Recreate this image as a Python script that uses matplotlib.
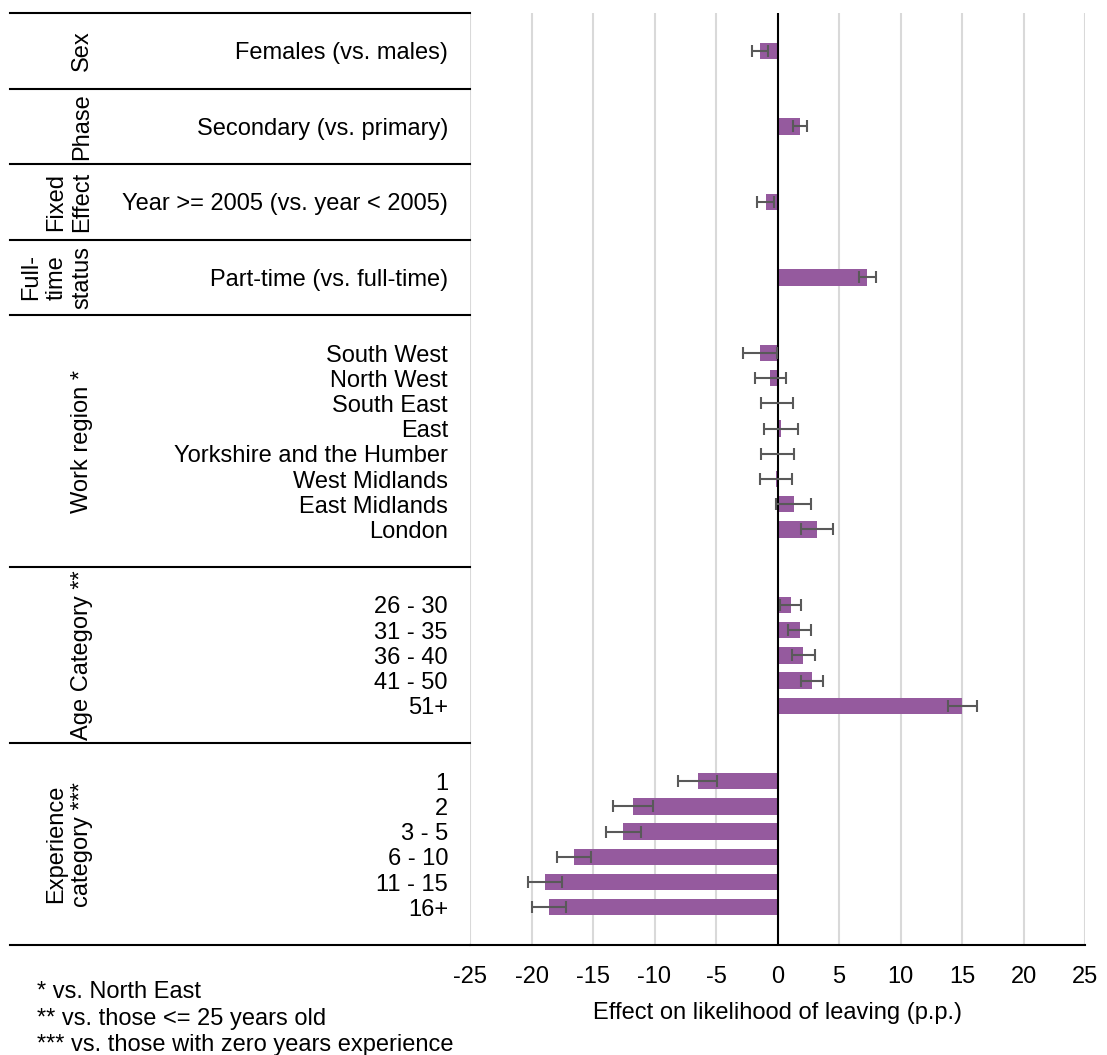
import matplotlib
matplotlib.use("Agg")
import matplotlib.pyplot as plt

plt.rcParams['font.family'] = ['Liberation Sans', 'DejaVu Sans']

# Groups of the regression table, top to bottom
groups = ["Sex", "Phase", "Fixed\nEffect", "Full-\ntime\nstatus",
          "Work region *", "Age Category **", "Experience\ncategory ***"]

labels = [
    ["Females (vs. males)"],
    ["Secondary (vs. primary)"],
    ["Year >= 2005 (vs. year < 2005)"],
    ["Part-time (vs. full-time)"],
    ["South West", "North West", "South East", "East",
     "Yorkshire and the Humber", "West Midlands", "East Midlands", "London"],
    ["26 - 30", "31 - 35", "36 - 40", "41 - 50", "51+"],
    ["1", "2", "3 - 5", "6 - 10", "11 - 15", "16+"],
]

# Effect estimates (percentage points) and 95% CI half-widths
effects = [
    [-1.44],
    [1.79],
    [-0.95],
    [7.29],
    [-1.44, -0.57, -0.05, 0.27, 0.02, -0.12, 1.33, 3.22],
    [1.06, 1.81, 2.11, 2.79, 15.04],
    [-6.49, -11.75, -12.53, -16.55, -18.90, -18.58],
]
errors = [
    [0.66],
    [0.57],
    [0.70],
    [0.68],
    [1.37, 1.27, 1.30, 1.40, 1.34, 1.29, 1.42, 1.32],
    [0.89, 0.95, 0.96, 0.89, 1.15],
    [1.56, 1.60, 1.44, 1.41, 1.41, 1.42],
]

footnotes = ["* vs. North East",
             "** vs. those <= 25 years old",
             "*** vs. those with zero years experience"]

xticks = [-25, -20, -15, -10, -5, 0, 5, 10, 15, 20, 25]

bar_color = "#955A9E"
fs = 17
W, H = 1107, 1055

# every group gets a blank row above and below its items
ypos, vals, errs, starts = [], [], [], [0]
row = 0
for lab, v, e in zip(labels, effects, errors):
    for i in range(len(lab)):
        ypos.append(row + 1.5 + i)
    vals += v
    errs += e
    row += len(lab) + 2
    starts.append(row)
nrows = row

fig = plt.figure(figsize=(W / 100, H / 100), dpi=100)
top_px, bot_px = 13, 945
ax = fig.add_axes([470 / W, (H - bot_px) / H, 615 / W, (bot_px - top_px) / H])
tab = fig.add_axes([10 / W, (H - bot_px) / H, 460 / W, (bot_px - top_px) / H])

for x in xticks:
    if x != 0:
        ax.axvline(x, color="#D9D9D9", lw=1.5, zorder=0)
ax.barh(ypos, vals, height=0.65, color=bar_color, zorder=2)
ax.axvline(0, color="black", lw=1.5, zorder=3)
ax.errorbar(vals, ypos, xerr=errs, fmt="none", ecolor="#595959",
            elinewidth=1.5, capsize=4, capthick=1.5, zorder=4)

ax.set_xlim(-25, 25)
ax.set_ylim(nrows, 0)
ax.set_xticks(xticks)
ax.set_xticklabels([str(t) for t in xticks], fontsize=fs)
ax.tick_params(axis="x", length=0, pad=15)
ax.set_yticks([])
for s in ax.spines.values():
    s.set_visible(False)
ax.plot([-25, 25], [nrows, nrows], color="black", lw=1.5, clip_on=False, zorder=5)
ax.set_xlabel("Effect on likelihood of leaving (p.p.)", fontsize=fs, labelpad=10)

# left-hand table with group and row labels
tab.set_xlim(10, 470)
tab.set_ylim(nrows, 0)
tab.axis("off")
for r in starts:
    tab.plot([10, 112], [r, r], color="black", lw=1.5, clip_on=False)
    tab.plot([114, 470], [r, r], color="black", lw=1.5, clip_on=False)

k = 0
for g, lab, a, b in zip(groups, labels, starts[:-1], starts[1:]):
    tab.text(93, (a + b) / 2, g, rotation=90, ha="right", va="center",
             multialignment="center", fontsize=fs, linespacing=1.2)
    for name in lab:
        tab.text(448, ypos[k], name, ha="right", va="center_baseline", fontsize=fs)
        k += 1

for i, t in enumerate(footnotes):
    fig.text(37 / W, 1 - (989 + 27 * i) / H, t, ha="left", va="center_baseline",
             fontsize=fs)

fig.savefig("out.png", dpi=100)
